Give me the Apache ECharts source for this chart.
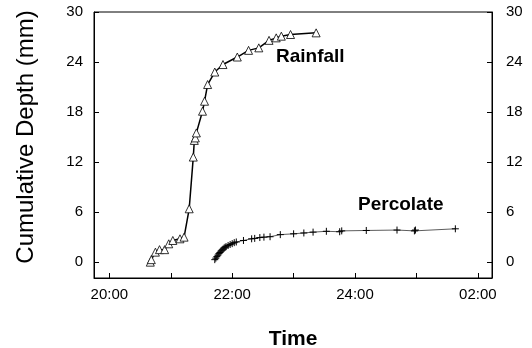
<!DOCTYPE html>
<html>
<head>
<meta charset="utf-8">
<script src="https://cdn.jsdelivr.net/npm/echarts@6/dist/echarts.min.js"></script>
<style>
  html, body { margin: 0; padding: 0; background: #fff; }
  #chart { width: 532px; height: 348px; }
</style>
</head>
<body>
<div id="chart"></div>
<script>
// rainfall gauge readings (clock time, cumulative mm)
const rainTimes = ["20:40", "20:41", "20:45", "20:49", "20:54", "20:58", "21:02", "21:09", "21:13",
  "21:18", "21:22", "21:23", "21:24", "21:25", "21:31", "21:33", "21:36", "21:43", "21:51",
  "22:05", "22:16", "22:26", "22:36", "22:43", "22:48", "22:57", "23:22"];
const rainDepth = [0.0, 0.3, 1.2, 1.5, 1.5, 2.2, 2.6, 2.8, 3.0,
  6.4, 12.6, 14.6, 14.9, 15.5, 18.1, 19.3, 21.3, 22.8, 23.7,
  24.6, 25.4, 25.7, 26.6, 26.9, 27.1, 27.3, 27.5];

// percolate collected
const percTimes = ["21:43", "21:44", "21:45", "21:46", "21:47", "21:48", "21:49", "21:50", "21:51",
  "21:52", "21:53", "21:54", "21:56", "21:58", "22:00", "22:02", "22:04", "22:11", "22:19",
  "22:22", "22:27", "22:31", "22:37", "22:47", "23:00", "23:10", "23:19", "23:32", "23:45",
  "23:47", "00:11", "00:41", "00:58", "00:59", "01:38"];
const percDepth = [0.3, 0.48, 0.66, 0.84, 1.02, 1.16, 1.32, 1.44, 1.56,
  1.68, 1.78, 1.86, 2.0, 2.12, 2.22, 2.34, 2.42, 2.6, 2.8,
  2.85, 2.95, 3.0, 3.05, 3.3, 3.4, 3.5, 3.6, 3.7, 3.65,
  3.75, 3.8, 3.85, 3.75, 3.85, 4.0];

const yTicks = [0, 6, 12, 18, 24, 30];
const xTicks = [20, 21, 22, 23, 24, 25, 26];
const xLabelTicks = [20, 22, 24, 26];

// "HH:MM" -> hours after midnight of the first day (times past midnight go on to 24+)
function toHours(s) {
  const [h, m] = s.split(":").map(Number);
  return (h < 12 ? h + 24 : h) + m / 60;
}
function fmtHour(v) {
  let h = Math.round(v);
  if (h > 24) h -= 24;
  return (h < 10 ? "0" : "") + h + ":00";
}

const rainData = rainTimes.map((t, i) => [toHours(t), rainDepth[i]]);
const percData = percTimes.map((t, i) => [toHours(t), percDepth[i]]);

const font = "'Liberation Sans', Arial, sans-serif";
const chart = echarts.init(document.getElementById("chart"));

const yCommon = {
  type: "value",
  min: -1.9,
  max: 30,
  splitLine: { show: false },
  axisLine: { show: true, lineStyle: { color: "#000", width: 1 } },
  axisTick: { show: true, inside: true, length: 5, customValues: yTicks, lineStyle: { color: "#000" } },
  axisLabel: { customValues: yTicks, color: "#000", fontSize: 15, fontFamily: font }
};

chart.setOption({
  animation: false,
  grid: {
    left: 94, right: 40, top: 12, bottom: 70,
    containLabel: false, outerBoundsMode: "none",
    show: true, borderColor: "#000", borderWidth: 1
  },
  xAxis: {
    type: "value",
    min: 19.75,
    max: 26.23,
    splitLine: { show: false },
    axisLine: { show: true, onZero: false, lineStyle: { color: "#000", width: 1 } },
    axisTick: { show: true, inside: true, length: 5, customValues: xTicks, lineStyle: { color: "#000" } },
    axisLabel: { customValues: xLabelTicks, formatter: fmtHour, color: "#000", fontSize: 15, fontFamily: font, margin: 9 },
    name: "Time",
    nameLocation: "middle",
    nameGap: 51,
    nameTextStyle: { color: "#000", fontSize: 21, fontWeight: "bold", fontFamily: font }
  },
  yAxis: [
    Object.assign({}, yCommon, { position: "left", axisLabel: Object.assign({}, yCommon.axisLabel, { margin: 11 }) }),
    Object.assign({}, yCommon, { position: "right", axisLabel: Object.assign({}, yCommon.axisLabel, { margin: 14 }) })
  ],
  series: [
    {
      name: "Rainfall",
      type: "line",
      data: rainData,
      symbol: "triangle",
      symbolSize: 8,
      showAllSymbol: true,
      lineStyle: { color: "#000", width: 1.5 },
      itemStyle: { color: "#fff", borderColor: "#000", borderWidth: 0.8 }
    },
    {
      name: "Percolate",
      type: "line",
      data: percData,
      symbol: "path://M0,5L10,5M5,0L5,10",
      symbolSize: 7,
      showAllSymbol: true,
      lineStyle: { color: "#333", width: 0.8 },
      itemStyle: { color: "none", borderColor: "#000", borderWidth: 1 }
    }
  ],
  graphic: [
    {
      type: "text", x: 26, y: 137, rotation: Math.PI / 2,
      style: { text: "Cumulative Depth (mm)", font: "24px " + font, fill: "#000", align: "center", verticalAlign: "middle" }
    },
    { type: "text", left: 276, top: 47, style: { text: "Rainfall", font: "bold 19px " + font, fill: "#000" } },
    { type: "text", left: 358, top: 195, style: { text: "Percolate", font: "bold 19px " + font, fill: "#000" } }
  ]
});
</script>
</body>
</html>
